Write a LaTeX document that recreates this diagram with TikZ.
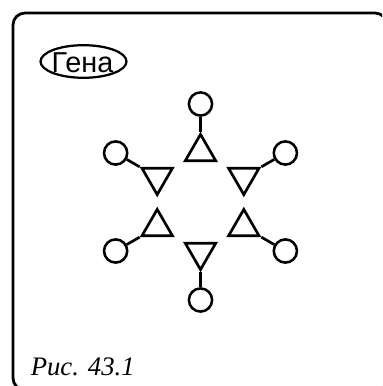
\documentclass[tikz,border=0pt]{standalone}
\usepackage{fontspec}
\setmainfont{Liberation Serif}
\newfontfamily\tagfont{Liberation Sans}
\usetikzlibrary{shapes.geometric}

\begin{document}
\begin{tikzpicture}[
    x=0.025cm, y=0.025cm,
    frame/.style={draw=black, line width=2pt, rounded corners=0.3cm},
    tag/.style={anchor=base, inner sep=0pt, font=\tagfont\fontsize{20.5}{24}\selectfont},
    ring/.style={draw=black, line width=1.6pt},
    head/.style={draw=black, circle, line width=1.8pt, inner sep=0pt,
                 minimum size=0.58cm},
    wedge/.style={draw=black, regular polygon, regular polygon sides=3,
                  line width=1.9pt, inner sep=0pt, minimum size=0.88cm},
    stalk/.style={line width=1.9pt},
    caption/.style={anchor=base west, inner sep=0pt,
                    font=\itshape\fontsize{19}{22}\selectfont}
]
\useasboundingbox (0,0) rectangle (382,386);

% Frame, cut by the page edges
\begin{scope}
  \clip (0,0) rectangle (382,386);
  \draw[frame] (13,-4) rectangle (387,373);
\end{scope}

% Name tag
\node[tag] (name) at (82.5,313.7) {Гена};
\draw[ring] (83.5,324.5) ellipse [x radius=43, y radius=16.3];

% Six figures round the centre
\coordinate (centre) at (200.5,184);
\foreach \ang [evaluate=\ang as \rot using \ang-90, count=\i] in {90,150,210,270,330,390} {
  \node[wedge, shape border rotate=\rot] (w\i) at ([shift={(\ang:50)}]centre) {};
  \node[head] (h\i) at ([shift={(\ang:98)}]centre) {};
  \draw[stalk] (w\i.corner 1) -- (h\i);
}

% Caption
\node[caption] (cap) at (30.5,11) {Рис. 43.1};

\end{tikzpicture}
\end{document}
